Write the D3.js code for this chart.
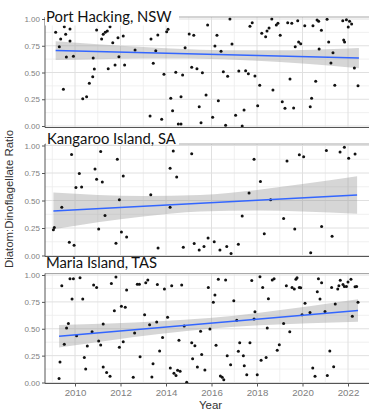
<!DOCTYPE html>
<html>
<head>
<meta charset="utf-8">
<script src="https://cdn.jsdelivr.net/npm/d3@7"></script>
<style>
  body { margin: 0; background: #fff; }
  svg { display: block; }
</style>
</head>
<body>
<svg id="chart" width="369" height="412"></svg>
<script>
// tick values
const yearTicks = [2010, 2012, 2014, 2016, 2018, 2020, 2022];
const yearMinor = [2009, 2011, 2013, 2015, 2017, 2019, 2021, 2023];
const ratioTicks = [0, 0.25, 0.5, 0.75, 1];
const ratioMinor = [0.125, 0.375, 0.625, 0.875];
const siteNames = ["Port Hacking, NSW", "Kangaroo Island, SA", "Maria Island, TAS"];

// [year, diatom:dinoflagellate ratio]
const portHacking = [
  [2009.15,0.876],[2009.53,0.928],[2009.78,0.907],[2009.37,0.813],[2009.59,0.857],[2009.78,0.794],[2009.31,0.741],[2009.62,0.645],
  [2009.93,0.651],[2009.49,0.343],[2010.34,0.255],[2010.51,0.274],[2010.63,0.399],[2010.78,0.461],[2010.85,0.533],[2010.80,0.636],
  [2010.95,0.897],[2011.17,0.813],[2011.24,0.857],[2011.33,0.876],[2011.42,0.888],[2011.54,0.928],[2011.66,0.779],[2011.76,0.570],
  [2011.46,0.536],[2011.89,0.825],[2012.12,0.841],[2011.93,0.648],[2012.18,0.570],[2012.64,0.710],[2013.34,0.813],[2013.64,0.850],
  [2013.55,0.704],[2013.44,0.586],[2013.91,0.483],[2014.03,0.881],[2014.09,0.904],[2014.43,0.502],[2014.73,0.477],[2014.21,0.259],
  [2014.29,0.143],[2014.66,0.274],[2013.30,0.093],[2013.81,0.063],[2014.54,0.019],[2014.66,0.019],[2014.84,0.732],[2015.83,0.944],
  [2015.02,0.860],[2015.22,0.848],[2015.13,0.549],[2015.36,0.536],[2015.60,0.498],[2015.76,0.290],[2015.46,0.180],[2015.54,0.031],
  [2016.81,1.000],[2016.24,0.848],[2016.15,0.748],[2016.42,0.698],[2016.90,0.766],[2016.52,0.507],[2016.71,0.464],[2016.30,0.236],
  [2016.05,0.081],[2016.62,0.007],[2017.20,0.514],[2017.50,0.517],[2017.62,0.489],[2017.91,0.467],[2018.12,0.380],[2018.03,0.190],
  [2017.43,0.150],[2017.06,0.100],[2017.35,0.000],[2017.69,0.932],[2017.79,0.965],[2018.21,0.866],[2018.38,0.835],[2018.44,0.888],
  [2018.53,0.916],[2018.65,1.000],[2018.85,0.944],[2018.92,0.960],[2019.02,0.848],[2019.35,0.965],[2019.53,0.960],[2019.79,0.984],
  [2020.10,0.937],[2020.46,0.937],[2020.64,0.991],[2020.71,0.979],[2021.08,0.997],[2020.83,0.894],[2021.15,0.785],[2021.81,0.804],
  [2021.85,0.785],[2021.77,0.984],[2021.93,0.993],[2022.07,0.979],[2022.16,0.953],[2022.01,0.925],[2019.83,0.785],[2019.92,0.769],
  [2019.68,0.741],[2020.73,0.720],[2021.34,0.685],[2021.25,0.589],[2022.28,0.542],[2018.70,0.336],[2019.45,0.439],[2020.58,0.418],
  [2021.42,0.380],[2022.44,0.377],[2019.11,0.227],[2019.23,0.165],[2019.61,0.168],[2020.34,0.180],[2020.40,0.259]
];
const kangarooIsland = [
  [2009.85,0.919],[2011.13,0.946],[2011.86,0.874],[2010.19,0.745],[2010.88,0.787],[2010.95,0.694],[2011.20,0.669],[2012.12,0.723],
  [2010.04,0.619],[2010.29,0.622],[2011.95,0.507],[2013.33,0.552],[2009.42,0.439],[2011.32,0.363],[2009.09,0.255],[2009.05,0.234],
  [2011.04,0.240],[2012.04,0.214],[2012.27,0.168],[2009.75,0.120],[2009.96,0.093],[2011.80,0.111],[2013.65,0.069],[2014.18,0.793],
  [2014.32,0.949],[2014.47,0.714],[2014.18,0.439],[2014.76,0.075],[2015.13,0.925],[2015.24,0.108],[2015.46,0.051],[2015.67,0.081],
  [2015.85,0.159],[2016.12,0.126],[2016.37,0.051],[2016.67,0.081],[2016.86,0.018],[2017.18,0.102],[2017.35,0.360],[2017.65,0.568],
  [2017.87,0.874],[2018.15,0.673],[2018.32,0.198],[2018.60,0.507],[2019.17,0.336],[2019.32,0.859],[2019.66,0.240],[2019.86,0.916],
  [2020.05,0.898],[2020.36,0.024],[2020.84,0.264],[2021.05,0.955],[2021.30,0.174],[2021.65,0.940],[2021.84,0.985],[2022.03,0.883],
  [2022.31,0.922]
];
const mariaIsland = [
  [2009.30,0.037],[2009.34,0.190],[2009.42,0.899],[2009.53,0.355],[2009.63,0.507],[2009.71,0.548],[2009.78,0.966],[2009.93,0.966],
  [2009.87,0.777],[2010.07,0.434],[2010.22,0.975],[2010.34,0.777],[2010.41,0.232],[2010.47,0.126],[2010.54,0.339],[2010.75,0.471],
  [2010.82,0.908],[2010.95,0.884],[2011.04,0.385],[2011.13,0.349],[2011.24,0.544],[2011.24,0.144],[2011.39,0.094],[2011.54,0.058],
  [2011.60,0.920],[2011.80,0.982],[2011.73,0.667],[2011.95,0.328],[2012.04,0.709],[2012.21,0.700],[2012.12,0.379],[2012.27,0.860],
  [2012.56,0.049],[2012.62,0.461],[2012.74,0.915],[2012.83,0.915],[2012.86,0.239],[2013.06,0.630],[2013.11,0.929],[2013.20,0.954],
  [2013.28,0.538],[2013.38,0.052],[2013.43,0.174],[2013.59,0.562],[2013.62,0.911],[2013.72,0.294],[2013.85,0.419],[2013.93,0.869],
  [2014.07,0.606],[2014.19,0.135],[2014.25,0.899],[2014.35,0.085],[2014.44,0.064],[2014.51,0.113],[2014.62,0.104],[2014.69,0.908],
  [2014.57,0.394],[2014.80,0.526],[2014.91,0.003],[2015.13,0.370],[2015.27,0.342],[2015.17,0.220],[2015.57,0.260],[2015.52,0.477],
  [2015.38,0.144],[2015.71,0.116],[2015.86,0.884],[2015.93,0.498],[2016.08,0.746],[2016.15,0.814],[2016.30,0.960],[2016.20,0.346],
  [2016.62,0.954],[2016.69,0.250],[2016.84,0.165],[2016.39,0.061],[2016.47,0.049],[2016.54,0.025],[2016.98,0.761],[2017.11,0.578],
  [2017.24,0.370],[2017.18,0.291],[2017.40,0.250],[2017.44,0.156],[2017.55,0.073],[2017.69,0.370],[2017.77,0.948],[2017.91,0.658],
  [2017.87,0.590],[2018.01,0.073],[2018.13,0.984],[2018.25,0.884],[2018.18,0.208],[2018.40,0.232],[2018.45,0.507],[2018.50,0.780],
  [2018.67,0.954],[2018.75,0.966],[2018.89,0.300],[2018.98,0.351],[2019.17,0.548],[2019.29,0.899],[2019.44,0.471],[2019.54,0.884],
  [2019.64,0.869],[2019.71,0.960],[2019.76,0.975],[2019.86,0.884],[2019.92,0.881],[2019.98,0.630],[2020.11,0.737],[2020.33,0.651],
  [2020.45,0.135],[2020.55,0.058],[2020.65,0.844],[2020.70,0.966],[2020.77,0.777],[2020.84,0.929],[2020.99,0.661],[2021.09,0.064],
  [2021.20,0.294],[2021.28,0.884],[2021.37,0.147],[2021.44,0.731],[2021.55,0.869],[2021.60,0.899],[2021.66,0.951],[2021.78,0.911],
  [2021.84,0.893],[2021.93,0.893],[2022.00,0.936],[2022.13,0.960],[2022.31,0.890],[2022.38,0.893],[2022.19,0.617],[2022.44,0.746]
];

// linear fit ends
const fitYears = [[2009.15, 2022.48], [2009.05, 2022.40], [2009.30, 2022.44]];
const fitRatios = [[0.705, 0.635], [0.405, 0.550], [0.430, 0.670]];

const bandYears = [
  [2009.15, 2011, 2013, 2015, 2016, 2017, 2019, 2021, 2022.48],
  [2009.05, 2011, 2013, 2015.5, 2018, 2020, 2022.40],
  [2009.30, 2011.5, 2013.7, 2015.9, 2018.1, 2020.3, 2022.44]
];
const bandLow = [
  [0.617, 0.625, 0.631, 0.631, 0.627, 0.620, 0.599, 0.568, 0.540],
  [0.238, 0.302, 0.355, 0.400, 0.410, 0.400, 0.380],
  [0.325, 0.391, 0.451, 0.500, 0.532, 0.552, 0.565]
];
const bandHigh = [
  [0.793, 0.765, 0.739, 0.718, 0.711, 0.707, 0.707, 0.718, 0.730],
  [0.572, 0.551, 0.541, 0.550, 0.596, 0.649, 0.720],
  [0.535, 0.549, 0.569, 0.600, 0.650, 0.710, 0.775]
];

const siteData = [portHacking, kangarooIsland, mariaIsland];

const svg = d3.select("#chart");
const left = 45, right = 372;

const panels = [
  { top: 17,    bottom: 127.5, y1: 19,    y0: 126,   box: [45, 0, 179, 25.5],     titleX: 46, titleY: 21.8 },
  { top: 144,   bottom: 256.5, y1: 145.5, y0: 255.5, box: [46, 128.5, 179, 144.8], titleX: 47, titleY: 143.5 },
  { top: 273.5, bottom: 383.5, y1: 275,   y0: 382.5, box: [46, 257.5, 179, 272.5], titleX: 46, titleY: 268.3 }
];

const x = d3.scaleLinear().domain([2010, 2022]).range([75, 348]);

panels.forEach((p, i) => {
  const y = d3.scaleLinear().domain([0, 1]).range([p.y0, p.y1]);
  const g = svg.append("g");

  // grid
  g.selectAll(".vminor").data(yearMinor).enter().append("line")
    .attr("x1", d => x(d)).attr("x2", d => x(d))
    .attr("y1", p.top).attr("y2", p.bottom)
    .attr("stroke", "#ececec").attr("stroke-width", 0.8);
  g.selectAll(".hminor").data(ratioMinor).enter().append("line")
    .attr("x1", left).attr("x2", right)
    .attr("y1", d => y(d)).attr("y2", d => y(d))
    .attr("stroke", "#ececec").attr("stroke-width", 0.8);
  g.selectAll(".vmajor").data(yearTicks).enter().append("line")
    .attr("x1", d => x(d)).attr("x2", d => x(d))
    .attr("y1", p.top).attr("y2", p.bottom)
    .attr("stroke", "#e0e0e0").attr("stroke-width", 1);
  g.selectAll(".hmajor").data(ratioTicks).enter().append("line")
    .attr("x1", left).attr("x2", right)
    .attr("y1", d => y(d)).attr("y2", d => y(d))
    .attr("stroke", "#e0e0e0").attr("stroke-width", 1);

  // confidence band
  const band = bandYears[i].map((yr, k) => ({ yr: yr, lo: bandLow[i][k], hi: bandHigh[i][k] }));
  g.append("path")
    .datum(band)
    .attr("d", d3.area().x(d => x(d.yr)).y0(d => y(d.lo)).y1(d => y(d.hi)).curve(d3.curveMonotoneX))
    .attr("fill", "#999").attr("fill-opacity", 0.4);

  // points
  g.selectAll(".dot").data(siteData[i]).enter().append("circle")
    .attr("cx", d => x(d[0]))
    .attr("cy", d => y(d[1]))
    .attr("r", 1.5)
    .attr("fill", "#111");

  // fit line
  const fit = fitYears[i].map((yr, k) => [yr, fitRatios[i][k]]);
  g.append("path")
    .datum(fit)
    .attr("d", d3.line().x(d => x(d[0])).y(d => y(d[1])))
    .attr("fill", "none").attr("stroke", "#3366FF").attr("stroke-width", 1.4);

  // panel border
  g.append("line").attr("x1", left).attr("x2", right).attr("y1", p.top).attr("y2", p.top)
    .attr("stroke", "#a8a8a8").attr("stroke-width", 1);
  g.append("line").attr("x1", left).attr("x2", left).attr("y1", p.top).attr("y2", p.bottom)
    .attr("stroke", "#555").attr("stroke-width", 1);
  g.append("line").attr("x1", left).attr("x2", right).attr("y1", p.bottom).attr("y2", p.bottom)
    .attr("stroke", "#555").attr("stroke-width", 1);

  // y axis
  const yAxis = g.append("g")
    .attr("transform", "translate(" + left + ",0)")
    .call(d3.axisLeft(y).tickValues(ratioTicks).tickFormat(d3.format(".2f")).tickSize(3).tickSizeOuter(0).tickPadding(2));
  yAxis.select(".domain").remove();
  yAxis.selectAll("line").attr("stroke", "#555");
  yAxis.selectAll("text").attr("fill", "#808080").style("font", "8px 'Liberation Sans', Arial, sans-serif");

  // x axis on the last panel
  if (i === panels.length - 1) {
    const xAxis = g.append("g")
      .attr("transform", "translate(0," + p.bottom + ")")
      .call(d3.axisBottom(x).tickValues(yearTicks).tickFormat(d3.format("d")).tickSize(3).tickSizeOuter(0).tickPadding(3));
    xAxis.select(".domain").remove();
    xAxis.selectAll("line").attr("stroke", "#555");
    xAxis.selectAll("text").attr("fill", "#808080").style("font", "9.7px 'Liberation Sans', Arial, sans-serif");
  }
});

// facet title boxes
panels.forEach((p, i) => {
  svg.append("rect")
    .attr("x", p.box[0]).attr("y", p.box[1])
    .attr("width", p.box[2] - p.box[0]).attr("height", p.box[3] - p.box[1])
    .attr("fill", "#fff");
  svg.append("text")
    .attr("x", p.titleX).attr("y", p.titleY)
    .style("font", "14.8px Lato, 'Open Sans', sans-serif")
    .attr("fill", "#111")
    .text(siteNames[i]);
});

// axis titles
svg.append("text")
  .attr("transform", "translate(13,199) rotate(-90)")
  .attr("text-anchor", "middle")
  .style("font", "11.4px 'Liberation Sans', Arial, sans-serif")
  .attr("fill", "#333")
  .text("Diatom:Dinoflagellate Ratio");

svg.append("text")
  .attr("x", 210.5).attr("y", 409)
  .attr("text-anchor", "middle")
  .style("font", "11.5px 'Liberation Sans', Arial, sans-serif")
  .attr("fill", "#333")
  .text("Year");
</script>
</body>
</html>
